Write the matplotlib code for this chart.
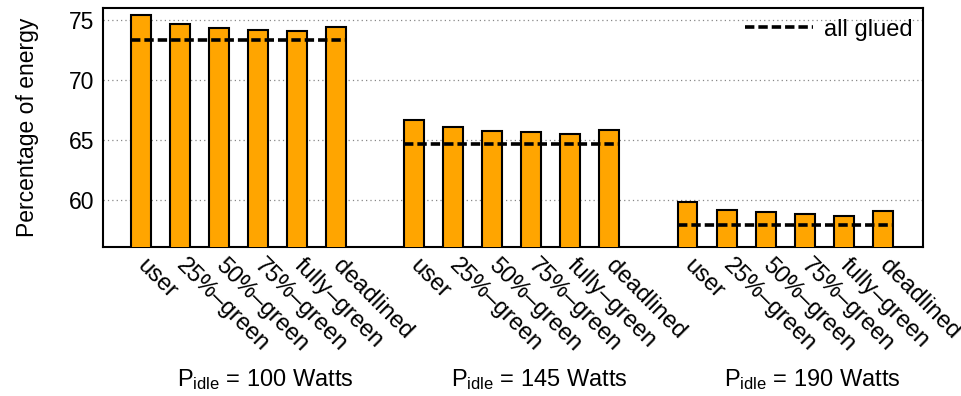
import matplotlib
matplotlib.use("Agg")
import matplotlib.pyplot as plt
import numpy as np

plt.rcParams['font.family'] = ['Liberation Sans', 'DejaVu Sans']
plt.rcParams['mathtext.fontset'] = 'custom'
plt.rcParams['mathtext.rm'] = 'Liberation Sans'
plt.rcParams['mathtext.it'] = 'Liberation Sans:italic'

categories = ["user", "25%-green", "50%-green", "75%-green", "fully-green", "deadlined"]
group_labels = [r"P$_{\mathregular{idle}}$ = 100 Watts",
                r"P$_{\mathregular{idle}}$ = 145 Watts",
                r"P$_{\mathregular{idle}}$ = 190 Watts"]
values_100 = [75.4, 74.65, 74.33, 74.2, 74.05, 74.4]
values_145 = [66.67, 66.05, 65.78, 65.63, 65.47, 65.86]
values_190 = [59.8, 59.2, 58.97, 58.86, 58.67, 59.06]
glued = [73.33, 64.69, 57.89]

groups = [values_100, values_145, values_190]

FS = 17

fig = plt.figure(figsize=(9.62, 3.96), dpi=100)
ax = fig.add_axes([103/962, 1-247/396, (923-103)/962, (247-8)/396])

width = 0.51
xticks = []
xlabels = []
for g, vals in enumerate(groups):
    x = np.arange(len(vals)) + g * 7
    ax.bar(x, vals, width=width, color='#FFA500', edgecolor='black', linewidth=1.5, zorder=3)
    xticks.extend(x)
    xlabels.extend([c.replace('-', '\u2013') for c in categories])
    ax.plot([x[0] - width / 2, x[-1] + width / 2], [glued[g], glued[g]], color='black',
            linewidth=2.6, dashes=(2.6, 1.1), zorder=4,
            label='all glued' if g == 0 else None)
    ax.text(x.mean() + 0.7, -0.58, group_labels[g], transform=ax.get_xaxis_transform(),
            ha='center', va='baseline', fontsize=FS)

ax.set_xlim(-0.965, 20.03)
ax.set_ylim(56.08, 76.0)
ax.set_yticks([60, 65, 70, 75])
ax.set_xticks(xticks)
ax.set_xticklabels(xlabels, rotation=-45, ha='left', va='center', rotation_mode='anchor', fontsize=FS)
ax.tick_params(axis='x', length=0, pad=11)
ax.tick_params(axis='y', length=0, pad=6, labelsize=16.5)
ax.grid(axis='y', linestyle=(0, (1, 2.5)), color='#888888', linewidth=0.9, zorder=0)
for s in ax.spines.values():
    s.set_linewidth(1.5)
ax.set_ylabel("Percentage of energy", fontsize=16.5, labelpad=22)

leg = ax.legend(loc='upper right', frameon=False, fontsize=FS, handlelength=2.9,
                handletextpad=0.45, borderaxespad=0.05)

fig.savefig("out.png", dpi=100)
